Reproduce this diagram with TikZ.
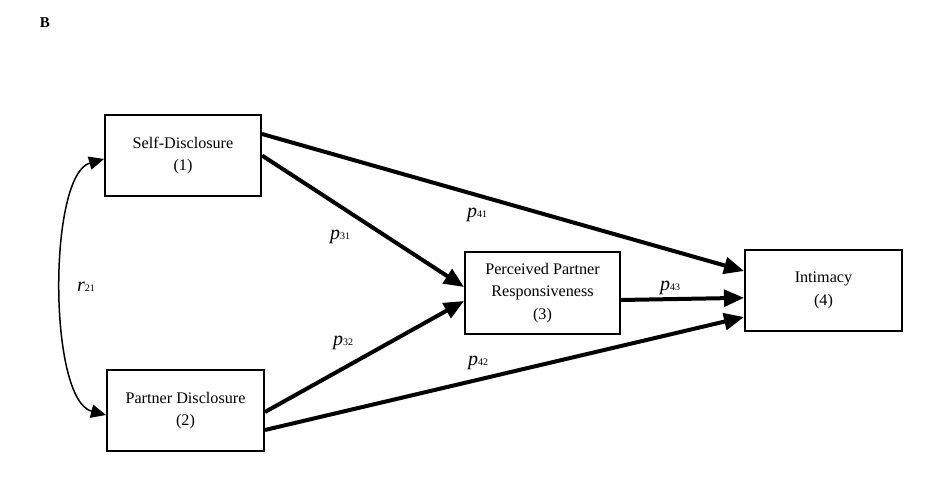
\documentclass[tikz,border=0pt]{standalone}
\usepackage{fontspec}
\setmainfont{Liberation Serif}
\usetikzlibrary{arrows.meta}

\tikzset{
  varbox/.style={draw, line width=1.2pt, minimum width=93pt, minimum height=49pt,
    align=center, font=\fontsize{9.7}{13.5}\selectfont, inner sep=0pt},
  path/.style={line width=2.4pt, -{Triangle[length=12pt,width=10pt]}},
  corr/.style={line width=0.9pt, {Triangle[length=9pt,width=8pt]}-{Triangle[length=9pt,width=8pt]}},
  coef/.style={font=\large\itshape, inner sep=0pt}
}
\newcommand{\coef}[2]{#1{\upshape\fontsize{6}{6}\selectfont #2}}

\begin{document}
\begin{tikzpicture}[x=0.6pt, y=-0.6pt]
  \useasboundingbox (0,0) rectangle (936,477);
  \node[font=\bfseries\small] (lab) at (45,23) {B};
  % variables
  \node[varbox, minimum width=93.6pt] (self) at (183,155.5) {Self-Disclosure\\(1)};
  \node[varbox, minimum width=94.2pt] (partner) at (185.5,410.5) {Partner Disclosure\\(2)};
  \node[varbox, minimum height=49.2pt] (resp) at (542.5,293) {Perceived Partner\\Responsiveness\\(3)};
  \node[varbox, minimum width=94.2pt, minimum height=48.6pt] (intim) at (823.5,290.5) {Intimacy\\(4)};
  % paths
  \draw[path] ([yshift=12.9pt]self.east) -- ([yshift=11.7pt]intim.west);
  \draw[path] (self.east) -- ([yshift=3.6pt]resp.west);
  \draw[path] ([yshift=-0.9pt]partner.east) -- ([yshift=-4.8pt]resp.west);
  \draw[path] ([yshift=-11.7pt]partner.east) -- ([yshift=-15.9pt]intim.west);
  \draw[path] ([yshift=-4.2pt]resp.east) -- ([yshift=-4.4pt]intim.west);
  \draw[corr] ([yshift=-2.1pt]self.west) .. controls (48,175) and (48,400) .. ([yshift=-2.7pt]partner.west);
  % coefficients
  \node[coef] (r21) at (86,287) {\coef{r}{21}};
  \node[coef] (p31) at (340,237) {\coef{p}{31}};
  \node[coef] (p41) at (477,215) {\coef{p}{41}};
  \node[coef] (p32) at (343,343) {\coef{p}{32}};
  \node[coef] (p42) at (478,363) {\coef{p}{42}};
  \node[coef] (p43) at (670,288) {\coef{p}{43}};
\end{tikzpicture}
\end{document}
